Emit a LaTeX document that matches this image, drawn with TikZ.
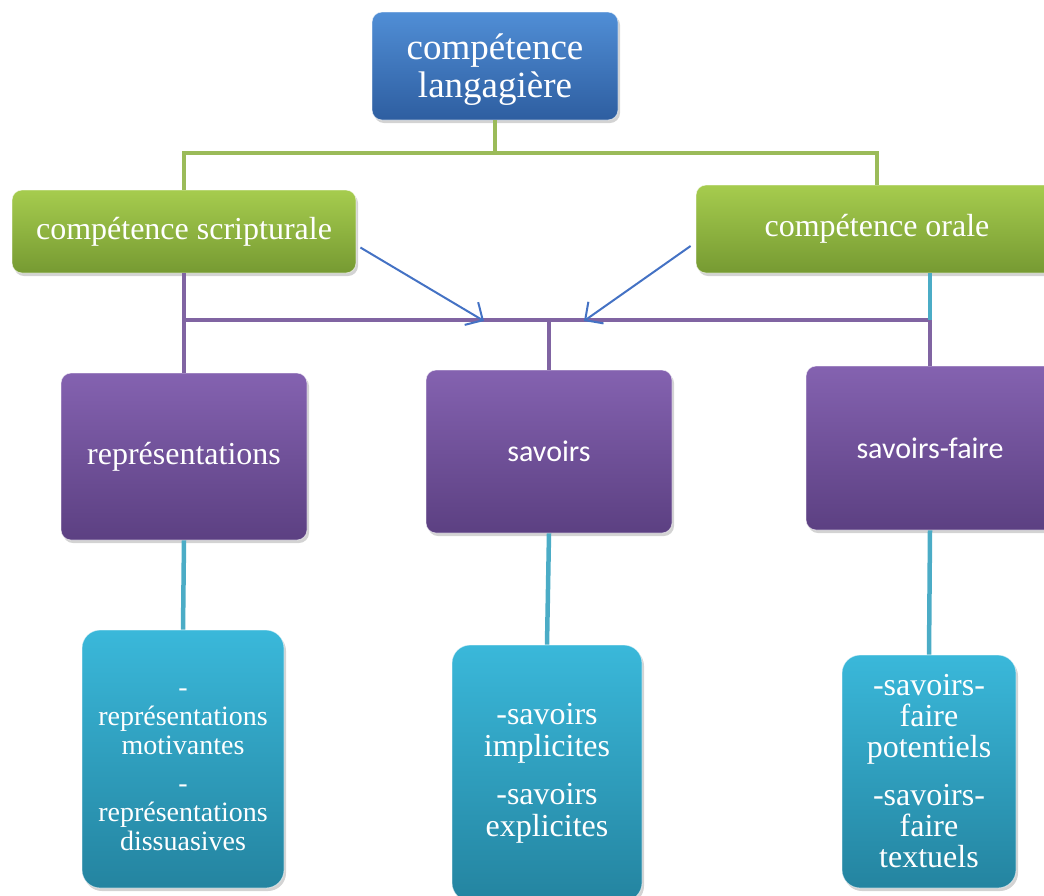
\documentclass[tikz,border=0pt]{standalone}
\usepackage{fontspec}
\setmainfont{Liberation Serif}
\newfontfamily\sansschrift{Carlito}
\usetikzlibrary{shadows,arrows.meta}
\definecolor{bleuhaut}{RGB}{80,142,214}
\definecolor{bleubas}{RGB}{46,94,160}
\definecolor{vertclair}{RGB}{166,204,78}
\definecolor{vertfonce}{RGB}{118,154,50}
\definecolor{violetclair}{RGB}{132,98,176}
\definecolor{violetfonce}{RGB}{92,64,130}
\definecolor{cyanclair}{RGB}{58,184,218}
\definecolor{cyanfonce}{RGB}{36,132,160}
\definecolor{vertligne}{RGB}{155,187,89}
\definecolor{violetligne}{RGB}{128,100,162}
\definecolor{cyanligne}{RGB}{75,172,198}
\definecolor{bleufleche}{RGB}{68,114,196}

\begin{document}
\begin{tikzpicture}[x=1pt, y=-1pt,
    boite/.style={rounded corners=10pt, draw=white, draw opacity=0.6, line width=0.8pt,
        text=white, inner sep=0pt, align=center,
        drop shadow={opacity=0.35, shadow xshift=2pt, shadow yshift=-3pt}},
    bleu/.style={boite, top color=bleuhaut, bottom color=bleubas},
    vert/.style={boite, top color=vertclair, bottom color=vertfonce},
    violet/.style={boite, top color=violetclair, bottom color=violetfonce},
    cyanbox/.style={boite, rounded corners=18pt, top color=cyanclair, bottom color=cyanfonce},
    lienvert/.style={vertligne, line width=4.5pt},
    lienviolet/.style={violetligne, line width=4.5pt},
    liencyan/.style={cyanligne, line width=4.5pt},
    fleche/.style={bleufleche, line width=2pt, -{Straight Barb[scale=2.4]}}]
    % Cadre
    \useasboundingbox (0,0) rectangle (1044,895);

    % Niveau 1
    \node[bleu, minimum width=246pt, minimum height=108pt, font=\fontsize{37}{38}\selectfont] (comp) at (495,66) {\rule{0pt}{33pt}compétence\\langagière};

    % Niveau 2
    \node[vert, minimum width=344pt, minimum height=83pt, font=\fontsize{32}{33}\selectfont] (scr) at (184,231.5) {compétence scripturale};
    \node[vert, minimum width=362pt, minimum height=88pt, font=\fontsize{32}{33}\selectfont] (oral) at (877,229) {compétence orale};

    % Niveau 3
    \node[violet, minimum width=246pt, minimum height=167pt, font=\fontsize{32}{33}\selectfont] (rep) at (184,456.5) {représentations};
    \node[violet, minimum width=246pt, minimum height=163pt, font=\sansschrift\fontsize{30}{31}\selectfont] (sav) at (549,451.5) {savoirs};
    \node[violet, minimum width=248pt, minimum height=164pt, font=\sansschrift\fontsize{30}{31}\selectfont] (sf) at (930,448) {savoirs-faire};

    % Niveau 4
    \node[cyanbox, minimum width=202pt, minimum height=258pt, font=\fontsize{28}{29}\selectfont] (rm) at (183,759)
        {\rule{0pt}{30pt}-\\représentations\\motivantes\\[9pt]-\\représentations\\dissuasives};
    \node[cyanbox, minimum width=190pt, minimum height=256pt, font=\fontsize{32}{32}\selectfont] (si) at (547,773)
        {-savoirs\\implicites\\[16pt]-savoirs\\explicites};
    \node[cyanbox, minimum width=174pt, minimum height=233pt, font=\fontsize{32}{31}\selectfont] (st) at (929,771.5)
        {-savoirs-\\faire\\potentiels\\[17pt]-savoirs-\\faire\\textuels};

    % Liaisons vertes
    \coordinate (busvert) at (495,153);
    \draw[lienvert] (comp.south) -- (busvert) -| (scr.north);
    \draw[lienvert] (busvert) -| (oral.north);

    % Liaisons violettes
    \coordinate (busg) at (184,320);
    \coordinate (busd) at (930,320);
    \draw[lienviolet] (scr.south) -- (rep.north);
    \draw[lienviolet] (busg) -- (busd);
    \draw[lienviolet] (sav.north |- busg) -- (sav.north);
    \draw[lienviolet] (busd) -- (sf.north);
    \draw[liencyan] (oral.south -| busd) -- (busd);

    % Fleches
    \coordinate (pointeg) at (484,321);
    \coordinate (pointed) at (584,321);
    \draw[fleche] ([xshift=4pt,yshift=-16pt]scr.east) -- (pointeg);
    \draw[fleche] ([xshift=-5pt,yshift=-17pt]oral.west) -- (pointed);

    % Liaisons cyan
    \draw[liencyan] (rep.south) -- (rm.north);
    \draw[liencyan] (sav.south) -- (si.north);
    \draw[liencyan] (sf.south) -- (st.north);
\end{tikzpicture}
\end{document}
